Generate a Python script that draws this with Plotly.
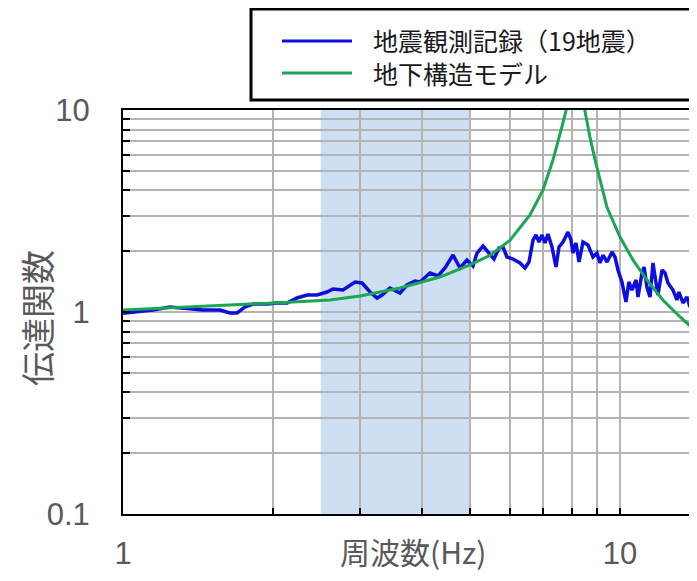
import plotly.graph_objects as go

# ---------------- data ----------------
obs_freq = [1.000, 1.149, 1.243, 1.345, 1.449, 1.567, 1.642, 1.696, 1.760, 1.827,
            1.949, 2.041, 2.138, 2.239, 2.346, 2.457, 2.573, 2.646, 2.771, 2.930,
            3.027, 3.141, 3.245, 3.321, 3.444, 3.608, 3.727, 3.868, 3.959, 4.147,
            4.303, 4.445, 4.613, 4.765, 4.922, 5.061, 5.156, 5.301, 5.425, 5.578,
            5.708, 5.815, 5.924, 6.091, 6.292, 6.439, 6.560, 6.683, 6.776, 6.871,
            6.967, 7.064, 7.163, 7.297, 7.434, 7.538, 7.679, 7.859, 7.969, 8.043,
            8.155, 8.270, 8.425, 8.622, 8.824, 8.989, 9.116, 9.243, 9.416, 9.636,
            9.771, 9.907, 10.09, 10.28, 10.42, 10.57, 10.77, 10.87, 11.07, 11.18,
            11.33, 11.49, 11.65, 11.76, 11.92, 12.15, 12.32, 12.49, 12.78, 13.02,
            13.14, 13.39, 13.64, 13.83, 14.02, 14.29]
obs_amp = [0.985, 1.023, 1.059, 1.035, 1.023, 1.023, 0.989, 0.989, 1.059, 1.095,
           1.095, 1.108, 1.108, 1.173, 1.214, 1.214, 1.256, 1.300, 1.285, 1.408,
           1.392, 1.256, 1.173, 1.214, 1.315, 1.242, 1.360, 1.424, 1.408, 1.560,
           1.508, 1.651, 1.915, 1.651, 1.809, 1.690, 1.959, 2.122, 1.982, 1.829,
           2.074, 2.098, 1.872, 1.829, 1.748, 1.651, 1.768, 2.272, 2.405, 2.221,
           2.405, 2.196, 2.433, 2.098, 1.670, 2.098, 2.221, 2.489, 2.272, 1.959,
           2.196, 1.768, 2.221, 2.146, 1.872, 1.959, 1.748, 1.915, 1.768, 1.982,
           1.872, 1.614, 1.408, 1.121, 1.408, 1.285, 1.440, 1.186, 1.560, 1.670,
           1.329, 1.186, 1.748, 1.490, 1.214, 1.614, 1.560, 1.392, 1.285, 1.147,
           1.256, 1.108, 1.186, 1.059, 1.121, 0.989]

model_freq = [1.00, 1.567, 2.02, 2.61, 3.00, 3.61, 4.34, 4.99, 5.48, 6.01,
              6.59, 7.00, 7.33, 7.64, 7.82, 8.13, 8.47, 8.70, 8.91, 9.41,
              10.0, 10.62, 11.33, 12.20, 13.21, 14.29]
model_amp = [1.023, 1.071, 1.108, 1.147, 1.20, 1.315, 1.49, 1.71, 1.91, 2.27,
             3.02, 4.02, 5.65, 8.24, 10.35, 30.0, 10.35, 7.35, 5.65, 3.31,
             2.35, 1.81, 1.44, 1.147, 0.945, 0.796]

band = [2.5, 5.0]  # shaded frequency band (Hz)

x_tick_vals = [1, 2, 3, 4, 5, 6, 7, 8, 9, 10]
x_tick_text = ["1", "", "", "", "", "", "", "", "", "10"]
y_tick_vals = [0.1, 0.2, 0.3, 0.4, 0.5, 0.6, 0.7, 0.8, 0.9,
               1, 2, 3, 4, 5, 6, 7, 8, 9, 10]
y_tick_text = ["0.1", "", "", "", "", "", "", "", "",
               "1", "", "", "", "", "", "", "", "", "10"]

obs_name = "地震観測記録（19地震）"
model_name = "地下構造モデル"
x_title = "周波数(Hz)"
y_title = "伝達関数"

# ---------------- layout constants ----------------
OFF = 8                      # page body margin of the html page
WIN_W, WIN_H = 697, 581
W, H = WIN_W - 2 * OFF, WIN_H - 2 * OFF     # figure fits the window without scrolling
L = 123 - OFF                # plot left edge (figure px)
T = 110 - OFF                # plot top edge
B = H - (514 - OFF)          # bottom margin
R = 0
PW, PH = W - L - R, H - T - B
X_MAX_LOG = (WIN_W - OFF - 123) / 497.0     # one decade = 497 px in the reference


def px(x):
    """window pixel x -> paper coordinate"""
    return (x - OFF - L) / PW


def py(y):
    """window pixel y -> paper coordinate"""
    return (H - B - (y - OFF)) / PH


BLUE = "#0d0de0"
GREEN = "#1ba653"
GRID = "#b4b4b4"
LABEL = "#595959"
FONT = "Liberation Sans, Arial, sans-serif"
CJK = "Noto Sans CJK JP, sans-serif"

fig = go.Figure()
fig.add_trace(go.Scatter(x=obs_freq, y=obs_amp, mode="lines", name=obs_name,
                         line=dict(color=BLUE, width=3.5), showlegend=False))
fig.add_trace(go.Scatter(x=model_freq, y=model_amp, mode="lines", name=model_name,
                         line=dict(color=GREEN, width=3), showlegend=False))

# shaded band
fig.add_shape(type="rect", xref="x", yref="paper", x0=band[0], x1=band[1], y0=0, y1=1,
              fillcolor="#cddff0", line=dict(width=0), layer="below")

# manual legend box
fig.add_shape(type="rect", xref="paper", yref="paper",
              x0=px(251), x1=px(712), y0=py(100), y1=py(9),
              line=dict(color="black", width=3), fillcolor="white")
fig.add_shape(type="line", xref="paper", yref="paper",
              x0=px(282), x1=px(352), y0=py(41), y1=py(41),
              line=dict(color=BLUE, width=3))
fig.add_shape(type="line", xref="paper", yref="paper",
              x0=px(282), x1=px(352), y0=py(73), y1=py(73),
              line=dict(color=GREEN, width=3))
fig.add_annotation(text=obs_name + "<br>" + model_name, xref="paper", yref="paper",
                   x=px(371), y=py(56), xanchor="left", yanchor="middle", align="left",
                   showarrow=False,
                   font=dict(family=CJK, size=25, color="#1a1a1a"))

# axis titles
fig.add_annotation(text=x_title, xref="paper", yref="paper", x=px(413), y=py(551),
                   xanchor="center", yanchor="middle", showarrow=False,
                   font=dict(family=CJK, size=30, color=LABEL))
fig.add_annotation(text=y_title, xref="paper", yref="paper", x=px(36), y=py(318),
                   xanchor="center", yanchor="middle", showarrow=False, textangle=-90,
                   font=dict(family=CJK, size=34, color=LABEL))

fig.update_xaxes(type="log", range=[0, X_MAX_LOG], tickvals=x_tick_vals, ticktext=x_tick_text,
                 showgrid=True, gridcolor=GRID, gridwidth=2,
                 showline=True, linecolor="black", linewidth=2, mirror=True,
                 ticks="inside", ticklen=6, tickwidth=2, tickcolor="black",
                 ticklabelstandoff=11,
                 tickfont=dict(family=FONT, size=31, color=LABEL), zeroline=False)
fig.update_yaxes(type="log", range=[-1, 1], tickvals=y_tick_vals, ticktext=y_tick_text,
                 showgrid=True, gridcolor=GRID, gridwidth=2,
                 showline=True, linecolor="black", linewidth=2,
                 ticks="inside", ticklen=7, tickwidth=2, tickcolor="black",
                 ticklabelstandoff=25,
                 tickfont=dict(family=FONT, size=31, color=LABEL), zeroline=False)

fig.update_layout(width=W, height=H, margin=dict(l=L, r=R, t=T, b=B, pad=0),
                  paper_bgcolor="white", plot_bgcolor="white", showlegend=False)

fig.write_html("out.html")
